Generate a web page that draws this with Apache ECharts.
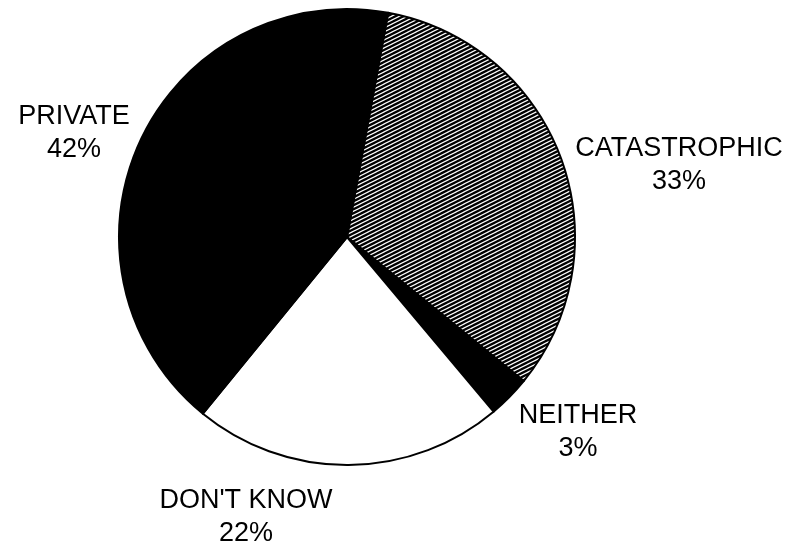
<!DOCTYPE html>
<html>
<head>
<meta charset="utf-8">
<script src="https://cdn.jsdelivr.net/npm/echarts@6/dist/echarts.min.js"></script>
<style>
  html, body { margin: 0; padding: 0; background: #fff; }
  #chart { width: 797px; height: 545px; }
</style>
</head>
<body>
<div id="chart"></div>
<script>
// Survey answers, in clockwise order from the top
const categories = ["CATASTROPHIC", "NEITHER", "DON'T KNOW", "PRIVATE"];
const shares = [33, 3, 22, 42];

// Where each label block is centred
const labelSpots = [[679, 165], [578, 432], [246, 517], [74, 133]];

// Rising diagonal hatching tile for the shaded slice
function hatchTile() {
  const c = document.createElement('canvas');
  c.width = 8; c.height = 4;
  const g = c.getContext('2d');
  g.fillStyle = '#000';
  g.fillRect(0, 0, 8, 4);
  g.strokeStyle = '#fff';
  g.lineWidth = 1.2;
  for (let k = -3; k <= 3; k++) {
    g.beginPath();
    g.moveTo(-8, k * 4 + 8);
    g.lineTo(16, k * 4 - 4);
    g.stroke();
  }
  return c;
}

const fills = [
  { image: hatchTile(), repeat: 'repeat' },
  '#000000',
  '#ffffff',
  '#000000'
];

const chart = echarts.init(document.getElementById('chart'), null, { renderer: 'canvas' });
chart.setOption({
  animation: false,
  backgroundColor: '#ffffff',
  series: [{
    type: 'pie',
    center: [347, 237],
    radius: 228,
    startAngle: 79.6,
    clockwise: true,
    avoidLabelOverlap: false,
    itemStyle: { borderColor: '#000', borderWidth: 2 },
    label: {
      show: true,
      formatter: '{b}\n{c}%',
      fontFamily: 'Liberation Sans, Arial, sans-serif',
      fontSize: 27,
      lineHeight: 33,
      color: '#000',
      align: 'center'
    },
    labelLine: { show: false },
    labelLayout: function (params) {
      const p = labelSpots[params.dataIndex];
      return { x: p[0], y: p[1], align: 'center', verticalAlign: 'middle' };
    },
    emphasis: { disabled: true },
    data: categories.map((name, i) => ({
      name: name,
      value: shares[i],
      itemStyle: { color: fills[i] }
    }))
  }]
});
</script>
</body>
</html>
